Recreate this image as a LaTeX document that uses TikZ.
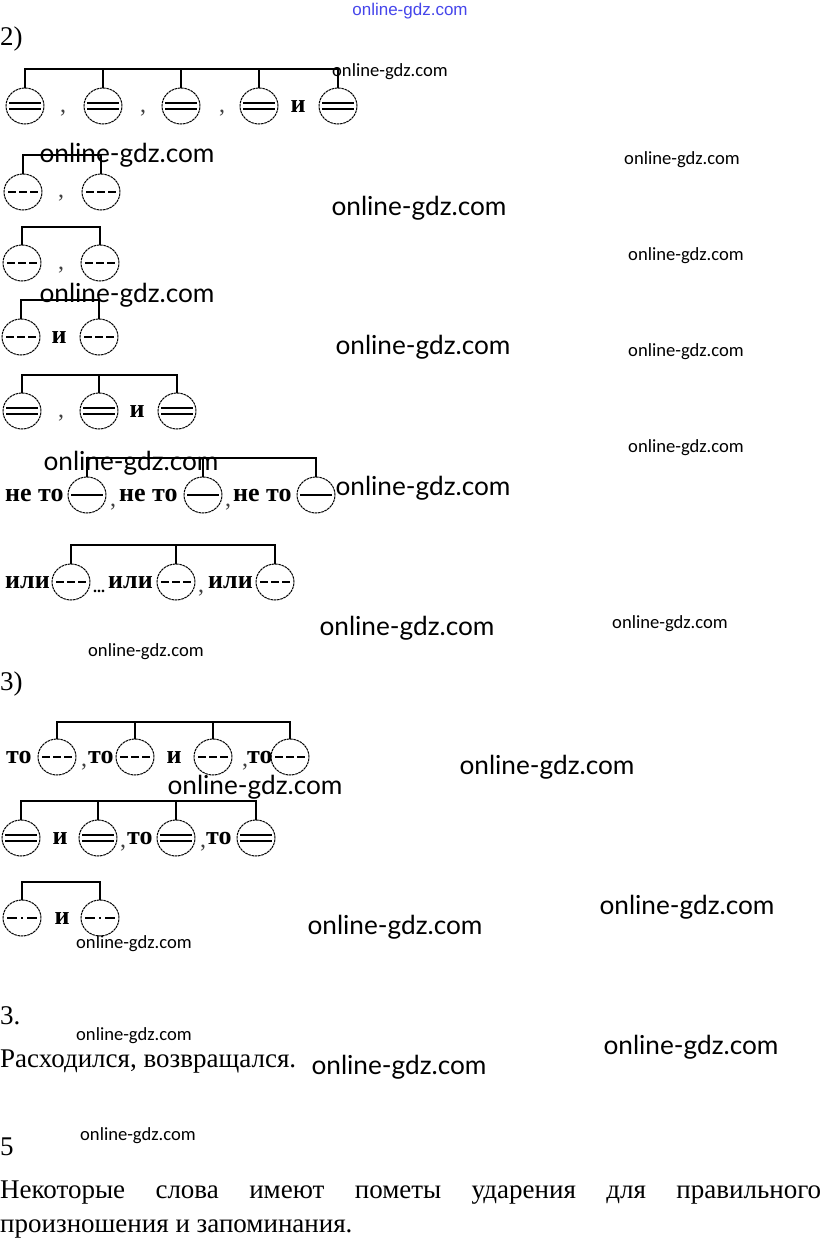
\documentclass[tikz,border=0pt]{standalone}
\usepackage{fontspec}
\setmainfont{Liberation Serif}
\newfontfamily\wmlato{Lato}
\newfontfamily\wmcarl{Carlito}
\newfontfamily\wmblue{Liberation Sans}
\usetikzlibrary{shapes.geometric}
\definecolor{wmbluec}{RGB}{70,70,235}
\tikzset{
  circ/.style={draw, ellipse, minimum width=38pt, minimum height=36pt, inner sep=0pt, line width=1pt, dash pattern=on 2.6pt off 0.7pt},
  barl/.style={line width=1.1pt},
  markl/.style={line width=1.1pt},
  lab/.style={font=\bfseries\fontsize{26}{26}\selectfont, inner sep=0pt, anchor=base},
  commast/.style={font=\fontsize{24}{24}\selectfont, inner sep=0pt, anchor=base, text=black!75},
  txt/.style={font=\fontsize{27}{27}\selectfont, inner sep=0pt, anchor=base west},
  wml/.style={font=\wmlato\fontsize{26.2}{26.2}\selectfont, inner sep=0pt},
  wms/.style={font=\wmcarl\fontsize{18.6}{18.6}\selectfont, inner sep=0pt},
}
\newcommand\mkdbl[1]{\draw[markl] ([shift={(-16,-3)}]#1.center) -- ++(32,0); \draw[markl] ([shift={(-16,3)}]#1.center) -- ++(32,0);}
\newcommand\mkdsh[1]{\draw[markl, dash pattern=on 8pt off 3pt] ([shift={(-15,0)}]#1.center) -- ++(30,0);}
\newcommand\mksgl[1]{\draw[markl] ([shift={(-16,0)}]#1.center) -- ++(32,0);}
\newcommand\mkdd[1]{\draw[markl] ([shift={(-15,0)}]#1.center) -- ++(10,0); \draw[markl] ([shift={(-1,0)}]#1.center) -- ++(2,0); \draw[markl] ([shift={(5,0)}]#1.center) -- ++(10,0);}
\begin{document}
\begin{tikzpicture}[x=1pt,y=-1pt]
\useasboundingbox (0,0) rectangle (821,1240);
\fill[white] (0,0) rectangle (821,1240);

% ---------- 2) ----------
\node[txt] (h2) at (0,45) {2)};

% row 1
\coordinate (b1) at (0,69);
\foreach \i/\x in {1/25,2/103,3/181,4/259,5/338} {\node[circ] (c1\i) at (\x,106) {};}
\draw[barl] (c11.north) |- (b1 -| c15) -- (c15.north);
\foreach \i in {2,3,4} {\draw[barl] (c1\i.north) -- (c1\i.north |- b1);}
\foreach \i in {1,...,5} {\mkdbl{c1\i}}
\node[commast] (k11) at (63,112) {,};
\node[commast] (k12) at (143,112) {,};
\node[commast] (k13) at (222,112) {,};
\node[lab] (i1) at (298,112) {и};

% row 2
\coordinate (b2) at (0,155);
\node[circ] (c21) at (23,192) {};
\node[circ] (c22) at (101,192) {};
\draw[barl] (c21.north) |- (b2 -| c22) -- (c22.north);
\mkdsh{c21}\mkdsh{c22}
\node[commast] (k21) at (61,197) {,};

% row 3
\coordinate (b3) at (0,227);
\node[circ] (c31) at (22,263) {};
\node[circ] (c32) at (100,263) {};
\draw[barl] (c31.north) |- (b3 -| c32) -- (c32.north);
\mkdsh{c31}\mkdsh{c32}
\node[commast] (k31) at (61,269) {,};

% row 4
\coordinate (b4) at (0,300);
\node[circ] (c41) at (21,337) {};
\node[circ] (c42) at (99,337) {};
\draw[barl] (c41.north) |- (b4 -| c42) -- (c42.north);
\mkdsh{c41}\mkdsh{c42}
\node[lab] (i4) at (59,343) {и};

% row 5
\coordinate (b5) at (0,375);
\node[circ] (c51) at (22,411) {};
\node[circ] (c52) at (99,411) {};
\node[circ] (c53) at (177,411) {};
\draw[barl] (c51.north) |- (b5 -| c53) -- (c53.north);
\draw[barl] (c52.north) -- (c52.north |- b5);
\mkdbl{c51}\mkdbl{c52}\mkdbl{c53}
\node[commast] (k51) at (61,417) {,};
\node[lab] (i5) at (137,417) {и};

% row 6
\coordinate (b6) at (0,458);
\node[circ] (c61) at (87,495) {};
\node[circ] (c62) at (203,495) {};
\node[circ] (c63) at (316,495) {};
\draw[barl] (c61.north) |- (b6 -| c63) -- (c63.north);
\draw[barl] (c62.north) -- (c62.north |- b6);
\mksgl{c61}\mksgl{c62}\mksgl{c63}
\node[lab, anchor=base west] (n61) at (5,501) {не то};
\node[lab, anchor=base west] (n62) at (119,501) {не то};
\node[lab, anchor=base west] (n63) at (233,501) {не то};
\node[commast] (k61) at (113,506) {,};
\node[commast] (k62) at (228,506) {,};

% row 7
\coordinate (b7) at (0,545);
\node[circ] (c71) at (71,582) {};
\node[circ] (c72) at (176,582) {};
\node[circ] (c73) at (275,582) {};
\draw[barl] (c71.north) |- (b7 -| c73) -- (c73.north);
\draw[barl] (c72.north) -- (c72.north |- b7);
\mkdsh{c71}\mkdsh{c72}\mkdsh{c73}
\node[lab, anchor=base west] (o71) at (5,588) {или};
\node[lab, anchor=base west] (o72) at (108,588) {или};
\node[lab, anchor=base west] (o73) at (208,588) {или};
\node[lab, font=\bfseries\fontsize{16}{16}\selectfont] (d71) at (99,592) {...};
\node[commast] (k71) at (201,592) {,};

% ---------- 3) ----------
\node[txt] (h3) at (0,690) {3)};

% row 8
\coordinate (b8) at (0,722);
\foreach \i/\x in {1/57,2/135,3/213,4/290} {\node[circ] (c8\i) at (\x,757) {};}
\draw[barl] (c81.north) |- (b8 -| c84) -- (c84.north);
\foreach \i in {2,3} {\draw[barl] (c8\i.north) -- (c8\i.north |- b8);}
\foreach \i in {1,...,4} {\mkdsh{c8\i}}
\node[lab, anchor=base west] (t81) at (6,763) {то};
\node[commast] (k81) at (84,766) {,};
\node[lab, anchor=base west] (t82) at (88,763) {то};
\node[lab] (i8) at (174,763) {и};
\node[commast] (k82) at (245,766) {,};
\node[lab, anchor=base west] (t83) at (247,763) {то};

% row 9
\coordinate (b9) at (0,801);
\foreach \i/\x in {1/21,2/98,3/176,4/256} {\node[circ] (c9\i) at (\x,838) {};}
\draw[barl] (c91.north) |- (b9 -| c94) -- (c94.north);
\foreach \i in {2,3} {\draw[barl] (c9\i.north) -- (c9\i.north |- b9);}
\foreach \i in {1,...,4} {\mkdbl{c9\i}}
\node[lab] (i9) at (60,844) {и};
\node[commast] (k91) at (123,847) {,};
\node[lab, anchor=base west] (t91) at (127,844) {то};
\node[commast] (k92) at (203,847) {,};
\node[lab, anchor=base west] (t92) at (206,844) {то};

% row 10
\coordinate (b10) at (0,882);
\node[circ] (c101) at (22,918) {};
\node[circ] (c102) at (100,918) {};
\draw[barl] (c101.north) |- (b10 -| c102) -- (c102.north);
\mkdd{c101}\mkdd{c102}
\node[lab] (i10) at (62,924) {и};

% ---------- text ----------
\node[txt] (h33) at (0,1024) {3.};
\node[txt] (s3) at (0,1067) {Расходился, возвращался.};
\node[txt] (h5) at (0,1155) {5};
\node[txt] (p1) at (0,1198) {\hbox to 821pt{Некоторые\hfill слова\hfill имеют\hfill пометы\hfill ударения\hfill для\hfill правильного}};
\node[txt] (p2) at (0,1232) {произношения и запоминания.};

% ---------- watermarks ----------
\node[font=\wmblue\fontsize{17}{17}\selectfont, text=wmbluec, inner sep=0pt] (w0) at (410,11) {online-gdz.com};
\node[wms] (w1) at (390,72) {online-gdz.com};
\node[wml] (w2) at (127,155) {online-gdz.com};
\node[wms] (w3) at (682,160) {online-gdz.com};
\node[wml] (w4) at (419,208) {online-gdz.com};
\node[wms] (w5) at (686,256) {online-gdz.com};
\node[wml] (w6) at (127,295) {online-gdz.com};
\node[wml] (w7) at (423,347) {online-gdz.com};
\node[wms] (w8) at (686,352) {online-gdz.com};
\node[wms] (w9) at (686,448) {online-gdz.com};
\node[wml] (w10) at (131,463) {online-gdz.com};
\node[wml] (w11) at (423,488) {online-gdz.com};
\node[wml] (w12) at (407,628) {online-gdz.com};
\node[wms] (w13) at (670,624) {online-gdz.com};
\node[wms] (w14) at (146,652) {online-gdz.com};
\node[wml] (w15) at (547,767) {online-gdz.com};
\node[wml] (w16) at (255,787) {online-gdz.com};
\node[wml] (w17) at (687,907) {online-gdz.com};
\node[wml] (w18) at (395,927) {online-gdz.com};
\node[wms] (w19) at (134,944) {online-gdz.com};
\node[wms] (w20) at (134,1036) {online-gdz.com};
\node[wml] (w21) at (691,1047) {online-gdz.com};
\node[wml] (w22) at (399,1067) {online-gdz.com};
\node[wms] (w23) at (138,1136) {online-gdz.com};
\end{tikzpicture}
\end{document}
